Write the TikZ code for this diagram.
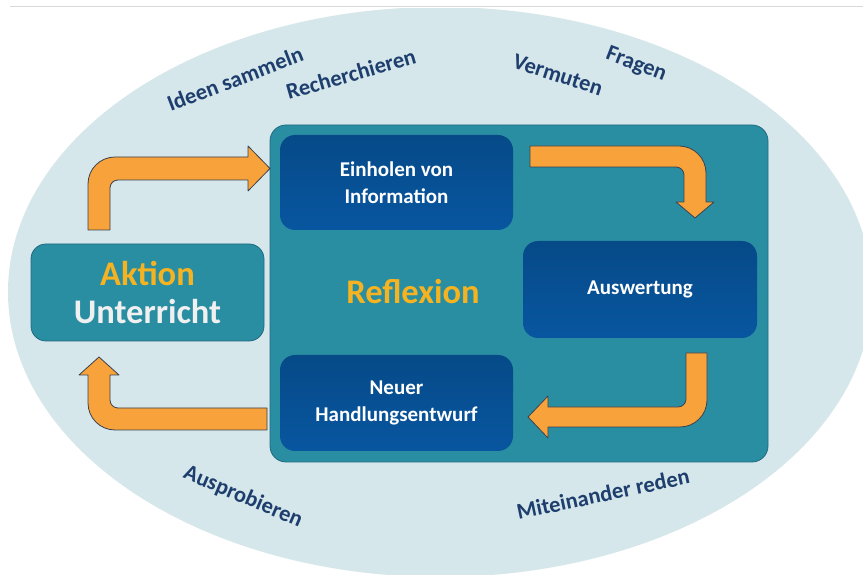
\documentclass[tikz,border=0pt]{standalone}
\usepackage{fontspec}
\setmainfont{Carlito}
\definecolor{ellfill}{HTML}{D6E7EB}
\definecolor{tealbox}{HTML}{2A8EA2}
\definecolor{tealedge}{HTML}{1F6A80}
\definecolor{darkbox}{HTML}{0856A0}
\definecolor{darkboxtop}{HTML}{064A88}
\definecolor{arrowfill}{HTML}{F7A23B}
\definecolor{arrowedge}{HTML}{3A4250}
\definecolor{labelcol}{HTML}{1E3F6E}
\definecolor{goldtext}{HTML}{F5B321}
\definecolor{topline}{HTML}{D9D9D9}
\tikzset{
  blockarrow/.style={fill=arrowfill, draw=arrowedge, line width=0.8pt, line join=round},
  innerbox/.style={rounded corners=15pt, top color=darkboxtop, bottom color=darkbox, draw=none},
  boxtext/.style={text=white, font=\bfseries\fontsize{21}{27}\selectfont, align=center},
  ringlabel/.style={text=labelcol, font=\bfseries\fontsize{22.5}{26}\selectfont, inner sep=0pt},
}
\begin{document}
\begin{tikzpicture}[x=1pt,y=1pt]
\useasboundingbox (0,0) rectangle (863,575);
\fill[white] (0,0) rectangle (863,575);
\begin{scope}
\clip (0,0) rectangle (863,566);
\fill[ellfill] (440,283) ellipse[x radius=432, y radius=285];
\end{scope}
\draw[topline, line width=1pt] (10,568) -- (863,568);

% big reflexion frame
\node[draw=tealedge, fill=tealbox, line width=0.8pt, rounded corners=16pt,
      minimum width=498pt, minimum height=337pt, inner sep=0pt] (refl) at (519,281.5) {};
\node[text=goldtext, font=\bfseries\fontsize{34.5}{40}\selectfont] (refltext) at (413,283) {Reflexion};

% inner boxes
\node[innerbox, minimum width=233pt, minimum height=95pt] (einh) at (396.5,392.5) {};
\node[boxtext] at (einh) {Einholen von\\Information};
\node[innerbox, minimum width=234pt, minimum height=97pt] (ausw) at (640,285.5) {};
\node[boxtext] at (ausw) {Auswertung};
\node[innerbox, minimum width=233pt, minimum height=96pt] (neuer) at (396.5,172) {};
\node[boxtext] at (neuer) {Neuer\\Handlungsentwurf};

% Aktion box
\node[draw=tealedge, fill=tealbox, line width=0.8pt, rounded corners=15pt,
      minimum width=233pt, minimum height=97pt, inner sep=0pt] (aktion) at (147.5,282.5) {};
\node[text=goldtext, font=\bfseries\fontsize{34.5}{40}\selectfont] (akt1) at (147.5,301) {Aktion};
\node[text=white!94!black, font=\bfseries\fontsize{34.5}{40}\selectfont] (akt2) at (147.5,263) {Unterricht};

% arrows
\draw[blockarrow] (88,345) -- (88,391) arc[start angle=180, end angle=90, radius=27]
  -- (248,418) -- (248,429) -- (270,406.5) -- (248,384) -- (248,395)
  -- (118,395) arc[start angle=90, end angle=180, radius=8] -- (110,345) -- cycle;
\draw[blockarrow] (267,167) -- (118,167) arc[start angle=270, end angle=180, radius=8]
  -- (110,200) -- (119,200) -- (99,218) -- (79,200) -- (88,200)
  -- (88,172) arc[start angle=180, end angle=270, radius=27] -- (267,145) -- cycle;
\draw[blockarrow] (530,429) -- (679,429) arc[start angle=90, end angle=0, radius=27]
  -- (706,373) -- (714,373) -- (695,357) -- (676,373) -- (684,373)
  -- (684,400) arc[start angle=0, end angle=90, radius=8] -- (530,408) -- cycle;
\draw[blockarrow] (686,222) -- (686,176) arc[start angle=0, end angle=-90, radius=8]
  -- (548,168) -- (548,179) -- (528,158) -- (548,137) -- (548,148)
  -- (680,148) arc[start angle=-90, end angle=0, radius=27] -- (707,222) -- cycle;

% ring labels
\node[ringlabel, rotate=21] (l1) at (235,496) {Ideen sammeln};
\node[ringlabel, rotate=16] (l2) at (351,501) {Recherchieren};
\node[ringlabel, rotate=-18] (l3) at (558,500) {Vermuten};
\node[ringlabel, rotate=-21] (l4) at (636,510) {Fragen};
\node[ringlabel, rotate=-23] (l5) at (243,78) {Ausprobieren};
\node[ringlabel, rotate=12] (l6) at (603,81) {Miteinander reden};
\end{tikzpicture}
\end{document}
